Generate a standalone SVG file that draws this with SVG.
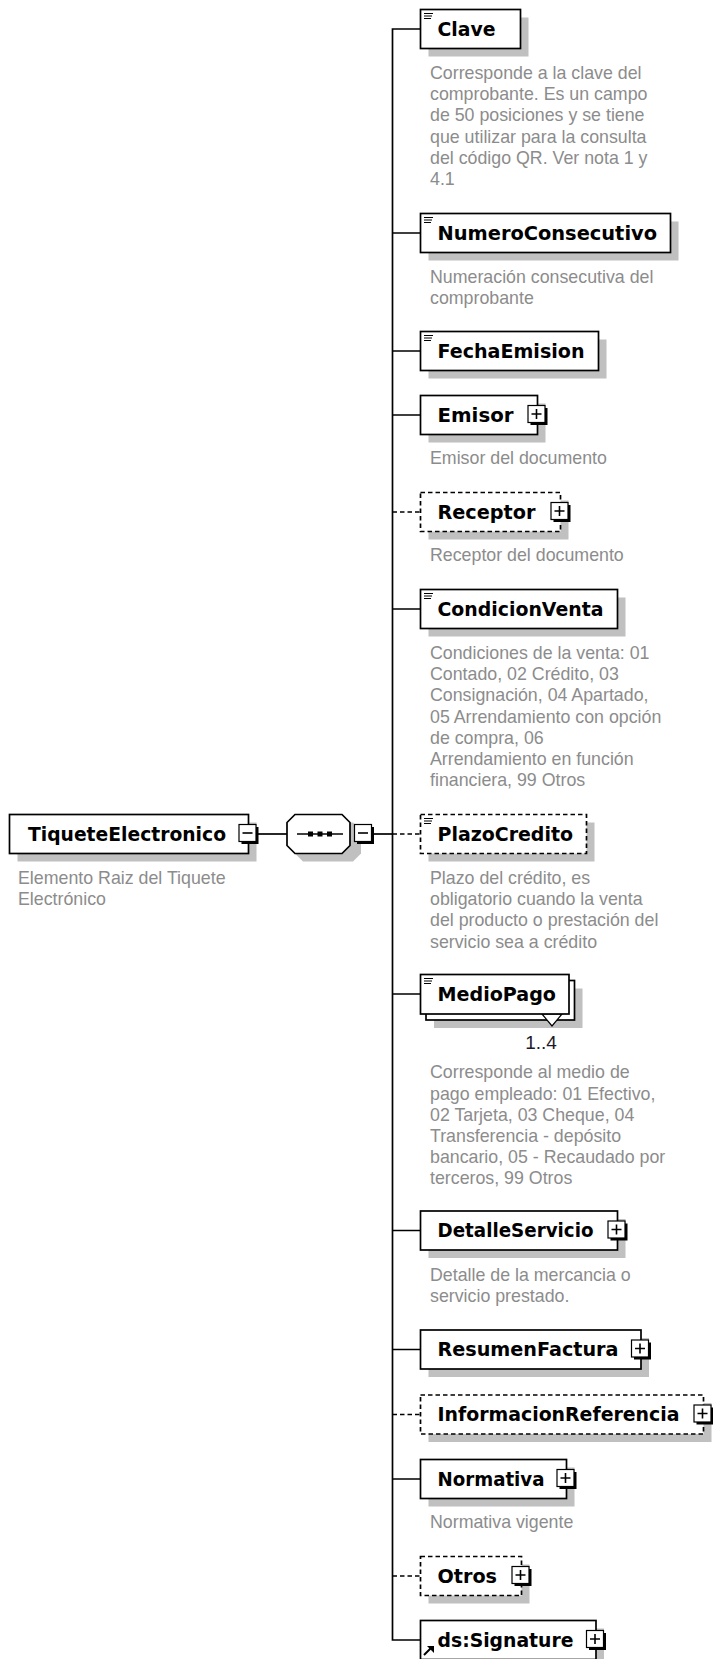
<svg xmlns="http://www.w3.org/2000/svg" xmlns:xlink="http://www.w3.org/1999/xlink" width="713" height="1659" viewBox="0 0 713 1659">
<style>
.box{fill:#fff;stroke:#000;stroke-width:1.7}
.dbox{fill:#fff;stroke:#000;stroke-width:1.7;stroke-dasharray:4.5,3}
.sh{fill:#c0c0c0}
.nm{font-family:"DejaVu Sans",Verdana,sans-serif;font-weight:bold;font-size:19.6px;fill:#000}
.ds{font-family:"Liberation Sans",Arial,sans-serif;font-size:17.8px;fill:#8c8c8c}
.ln{fill:none;stroke:#000;stroke-width:1.7}
.dln{fill:none;stroke:#000;stroke-width:1.7;stroke-dasharray:4.5,3}
</style>
<defs>
<g id="plus"><rect x="3" y="3" width="17" height="17" fill="#000"/><rect x="0.5" y="0.5" width="17" height="17" fill="#fff" stroke="#000" stroke-width="1.2"/><path d="M4 9H14M9 4V14" stroke="#000" stroke-width="1.6"/></g>
<g id="minus"><rect x="3" y="3" width="17" height="17" fill="#000"/><rect x="0.5" y="0.5" width="17" height="17" fill="#fff" stroke="#000" stroke-width="1.2"/><path d="M4 9H14" stroke="#000" stroke-width="1.6"/></g>
<g id="st"><path d="M0 0.5H9M0 3H8M0 5.5H7" stroke="#000" stroke-width="1"/></g>
</defs>
<rect width="713" height="1659" fill="#fff"/>

<g id="connectors">
<path class="ln" d="M258 834H287"/>
<path class="ln" d="M374 834H392.5"/>
<path class="ln" d="M420.5 29H392.5V1640H420.5"/>
<path class="ln" d="M392.5 233H420.5M392.5 351H420.5M392.5 415H420.5M392.5 609H420.5M392.5 994H420.5M392.5 1230.5H420.5M392.5 1349.5H420.5M392.5 1479H420.5"/>
<path class="dln" d="M392.5 512H420.5M392.5 834H420.5M392.5 1414.5H420.5M392.5 1576H420.5"/>
</g>

<g id="TiqueteElectronico">
<rect class="sh" x="17.5" y="822.5" width="239" height="39"/>
<rect class="box" x="9.5" y="814.5" width="239" height="39"/>
<text class="nm" x="28" y="840.5" textLength="198" lengthAdjust="spacingAndGlyphs">TiqueteElectronico</text>
<use xlink:href="#minus" x="238.5" y="824"/>
<text class="ds" x="18" y="883.5">Elemento Raiz del Tiquete<tspan x="18" dy="21.2">Electrónico</tspan></text>
</g>

<g id="sequence">
<polygon class="sh" points="303,822.5 353,822.5 361,830.5 361,853.5 353,861.5 303,861.5 295,853.5 295,830.5"/>
<polygon class="box" points="295,814.5 342,814.5 350,822.5 350,845.5 342,853.5 295,853.5 287,845.5 287,822.5"/>
<path d="M297 834H343" stroke="#000" stroke-width="1.5"/>
<rect x="308" y="831.5" width="5" height="5" fill="#000"/>
<rect x="317.5" y="831.5" width="5" height="5" fill="#000"/>
<rect x="327" y="831.5" width="5" height="5" fill="#000"/>
<use xlink:href="#minus" x="354" y="824"/>
</g>

<g id="Clave">
<rect class="sh" x="428.5" y="17.5" width="100" height="39"/>
<rect class="box" x="420.5" y="9.5" width="100" height="39"/>
<use xlink:href="#st" x="424" y="13"/>
<text class="nm" x="437.5" y="35.5" textLength="58" lengthAdjust="spacingAndGlyphs">Clave</text>
<text class="ds" x="430" y="79">Corresponde a la clave del<tspan x="430" dy="21.2">comprobante. Es un campo</tspan><tspan x="430" dy="21.2">de 50 posiciones y se tiene</tspan><tspan x="430" dy="21.2">que utilizar para la consulta</tspan><tspan x="430" dy="21.2">del código QR. Ver nota 1 y</tspan><tspan x="430" dy="21.2">4.1</tspan></text>
</g>

<g id="NumeroConsecutivo">
<rect class="sh" x="428.5" y="221.5" width="250" height="39"/>
<rect class="box" x="420.5" y="213.5" width="250" height="39"/>
<use xlink:href="#st" x="424" y="217"/>
<text class="nm" x="437.5" y="239.5" textLength="219.5" lengthAdjust="spacingAndGlyphs">NumeroConsecutivo</text>
<text class="ds" x="430" y="283">Numeración consecutiva del<tspan x="430" dy="21.2">comprobante</tspan></text>
</g>

<g id="FechaEmision">
<rect class="sh" x="428.5" y="339.5" width="178" height="39"/>
<rect class="box" x="420.5" y="331.5" width="178" height="39"/>
<use xlink:href="#st" x="424" y="335"/>
<text class="nm" x="437.5" y="357.5" textLength="147" lengthAdjust="spacingAndGlyphs">FechaEmision</text>
</g>

<g id="Emisor">
<rect class="sh" x="428.5" y="403.5" width="117" height="39"/>
<rect class="box" x="420.5" y="395.5" width="117" height="39"/>
<text class="nm" x="437.5" y="421.5" textLength="76" lengthAdjust="spacingAndGlyphs">Emisor</text>
<use xlink:href="#plus" x="527.5" y="405"/>
<text class="ds" x="430" y="464">Emisor del documento</text>
</g>

<g id="Receptor">
<rect class="sh" x="428.5" y="500.5" width="140" height="39"/>
<rect class="dbox" x="420.5" y="492.5" width="140" height="39"/>
<text class="nm" x="437.5" y="518.5" textLength="98" lengthAdjust="spacingAndGlyphs">Receptor</text>
<use xlink:href="#plus" x="550.5" y="502"/>
<text class="ds" x="430" y="561">Receptor del documento</text>
</g>

<g id="CondicionVenta">
<rect class="sh" x="428.5" y="597.5" width="197" height="39"/>
<rect class="box" x="420.5" y="589.5" width="197" height="39"/>
<use xlink:href="#st" x="424" y="593"/>
<text class="nm" x="437.5" y="615.5" textLength="166" lengthAdjust="spacingAndGlyphs">CondicionVenta</text>
<text class="ds" x="430" y="659">Condiciones de la venta: 01<tspan x="430" dy="21.2">Contado, 02 Crédito, 03</tspan><tspan x="430" dy="21.2">Consignación, 04 Apartado,</tspan><tspan x="430" dy="21.2">05 Arrendamiento con opción</tspan><tspan x="430" dy="21.2">de compra, 06</tspan><tspan x="430" dy="21.2">Arrendamiento en función</tspan><tspan x="430" dy="21.2">financiera, 99 Otros</tspan></text>
</g>

<g id="PlazoCredito">
<rect class="sh" x="428.5" y="822.5" width="166" height="39"/>
<rect class="dbox" x="420.5" y="814.5" width="166" height="39"/>
<use xlink:href="#st" x="424" y="818"/>
<text class="nm" x="437.5" y="840.5" textLength="135.5" lengthAdjust="spacingAndGlyphs">PlazoCredito</text>
<text class="ds" x="430" y="884">Plazo del crédito, es<tspan x="430" dy="21.2">obligatorio cuando la venta</tspan><tspan x="430" dy="21.2">del producto o prestación del</tspan><tspan x="430" dy="21.2">servicio sea a crédito</tspan></text>
</g>

<g id="MedioPago">
<rect class="sh" x="434" y="988.5" width="148.5" height="39.5"/>
<rect class="box" x="426" y="980.5" width="148.5" height="39.5"/>
<polygon points="542,1014 552,1026 562,1014" fill="#fff" stroke="#000" stroke-width="1.2"/>
<rect class="box" x="420.5" y="974.5" width="148.5" height="39.5"/>
<use xlink:href="#st" x="424" y="978"/>
<text class="nm" x="437.5" y="1000.5" textLength="118.5" lengthAdjust="spacingAndGlyphs">MedioPago</text>
<text x="541" y="1049" text-anchor="middle" font-family="Liberation Sans, Arial, sans-serif" font-size="19" fill="#1a1a2a">1..4</text>
<text class="ds" x="430" y="1078.3">Corresponde al medio de<tspan x="430" dy="21.2">pago empleado: 01 Efectivo,</tspan><tspan x="430" dy="21.2">02 Tarjeta, 03 Cheque, 04</tspan><tspan x="430" dy="21.2">Transferencia - depósito</tspan><tspan x="430" dy="21.2">bancario, 05 - Recaudado por</tspan><tspan x="430" dy="21.2">terceros, 99 Otros</tspan></text>
</g>

<g id="DetalleServicio">
<rect class="sh" x="428.5" y="1219" width="197" height="39"/>
<rect class="box" x="420.5" y="1211" width="197" height="39"/>
<text class="nm" x="437.5" y="1237" textLength="156" lengthAdjust="spacingAndGlyphs">DetalleServicio</text>
<use xlink:href="#plus" x="607.5" y="1220.5"/>
<text class="ds" x="430" y="1281">Detalle de la mercancia o<tspan x="430" dy="21.2">servicio prestado.</tspan></text>
</g>

<g id="ResumenFactura">
<rect class="sh" x="428.5" y="1338" width="220.5" height="39"/>
<rect class="box" x="420.5" y="1330" width="220.5" height="39"/>
<text class="nm" x="437.5" y="1356" textLength="181" lengthAdjust="spacingAndGlyphs">ResumenFactura</text>
<use xlink:href="#plus" x="631" y="1339.5"/>
</g>

<g id="InformacionReferencia">
<rect class="sh" x="428.5" y="1403" width="283" height="39"/>
<rect class="dbox" x="420.5" y="1395" width="283" height="39"/>
<text class="nm" x="437.5" y="1421" textLength="242" lengthAdjust="spacingAndGlyphs">InformacionReferencia</text>
<use xlink:href="#plus" x="693.5" y="1404.5"/>
</g>

<g id="Normativa">
<rect class="sh" x="428.5" y="1467.5" width="146" height="39"/>
<rect class="box" x="420.5" y="1459.5" width="146" height="39"/>
<text class="nm" x="437.5" y="1485.5" textLength="107" lengthAdjust="spacingAndGlyphs">Normativa</text>
<use xlink:href="#plus" x="556.5" y="1469"/>
<text class="ds" x="430" y="1528">Normativa vigente</text>
</g>

<g id="Otros">
<rect class="sh" x="428.5" y="1564.5" width="101" height="39"/>
<rect class="dbox" x="420.5" y="1556.5" width="101" height="39"/>
<text class="nm" x="437.5" y="1582.5" textLength="59.5" lengthAdjust="spacingAndGlyphs">Otros</text>
<use xlink:href="#plus" x="511.5" y="1566"/>
</g>

<g id="ds_Signature">
<rect class="sh" x="428.5" y="1628.5" width="175.5" height="39"/>
<rect class="box" x="420.5" y="1620.5" width="175.5" height="39"/>
<path d="M424 1655L430.5 1648.5" stroke="#000" stroke-width="2"/>
<polygon points="427,1646 434,1646 434,1653" fill="#000"/>
<text class="nm" x="437.5" y="1646.5" textLength="136" lengthAdjust="spacingAndGlyphs">ds:Signature</text>
<use xlink:href="#plus" x="586" y="1630"/>
</g>
</svg>
